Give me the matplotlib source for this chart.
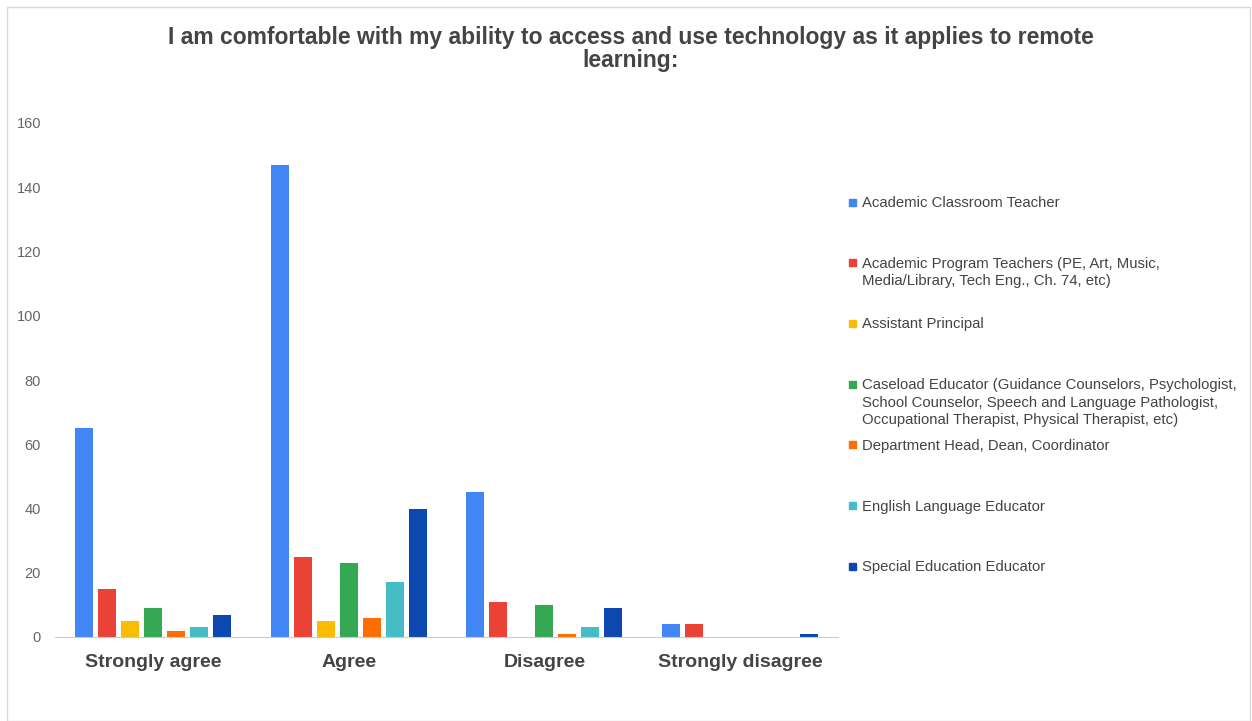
import matplotlib.pyplot as plt
import numpy as np
from matplotlib.patches import Rectangle

plt.rcParams['font.family'] = ['Liberation Sans', 'DejaVu Sans']

categories = ['Strongly agree', 'Agree', 'Disagree', 'Strongly disagree']
groups = [
    'Academic Classroom Teacher',
    'Academic Program Teachers (PE, Art, Music,\nMedia/Library, Tech Eng., Ch. 74, etc)',
    'Assistant Principal',
    'Caseload Educator (Guidance Counselors, Psychologist,\nSchool Counselor, Speech and Language Pathologist,\nOccupational Therapist, Physical Therapist, etc)',
    'Department Head, Dean, Coordinator',
    'English Language Educator',
    'Special Education Educator',
]
classroom = [65, 147, 45, 4]
program = [15, 25, 11, 4]
assistant = [5, 5, 0, 0]
caseload = [9, 23, 10, 0]
dept_head = [2, 6, 1, 0]
ell = [3, 17, 3, 0]
sped = [7, 40, 9, 1]
series = [classroom, program, assistant, caseload, dept_head, ell, sped]
colors = ['#4285F4', '#EA4335', '#FBBC04', '#34A853', '#FF6D01', '#46BDC6', '#0D47B0']

W, H = 1252, 721
fig = plt.figure(figsize=(W / 100, H / 100), dpi=100)

# plot area in pixels: x 55..838, y 123..637
ax = fig.add_axes([55 / W, 1 - 637 / H, (838 - 55) / W, (637 - 123) / H])

x = np.arange(len(categories))
step = 0.1175
width = 0.092
for i, (vals, c) in enumerate(zip(series, colors)):
    ax.bar(x + (i - 3) * step, vals, width, color=c, zorder=2)

ax.set_xlim(-0.5, 3.5)
ax.set_ylim(0, 160)
ax.set_yticks(range(0, 161, 20))
ax.tick_params(axis='y', length=0, pad=10, labelsize=10.5, labelcolor='#666666')
ax.tick_params(axis='x', length=0, pad=12)
ax.set_xticks(x)
ax.set_xticklabels(categories, fontsize=14, fontweight='bold', color='#444444')
for s in ['top', 'right', 'left']:
    ax.spines[s].set_visible(False)
ax.spines['bottom'].set_color('#cccccc')

fig.text(0.5 * (163 + 1098) / W, 1 - 49 / H,
         'I am comfortable with my ability to access and use technology as it applies to remote\nlearning:',
         ha='center', va='center', fontsize=16.5, fontweight='bold', color='#444444',
         linespacing=1.0)

# legend drawn by hand so multi-line labels hang from the swatch
first_y = 202
gap = 60.7
for i, (label, c) in enumerate(zip(groups, colors)):
    yy = first_y + i * gap
    fig.add_artist(Rectangle((849 / W, 1 - (yy + 3.5) / H), 7 / W, 7 / H,
                             transform=fig.transFigure, color=c))
    fig.text(862 / W, 1 - (yy - 6) / H, label, ha='left', va='top',
             fontsize=10.7, color='#444444', linespacing=1.32)

# thin frame round the chart
fig.add_artist(Rectangle((7 / W, 0), (W - 9) / W, 1 - 7 / H, transform=fig.transFigure,
                         fill=False, edgecolor='#d9d9d9', linewidth=1))

fig.savefig('out.png', dpi=100)
